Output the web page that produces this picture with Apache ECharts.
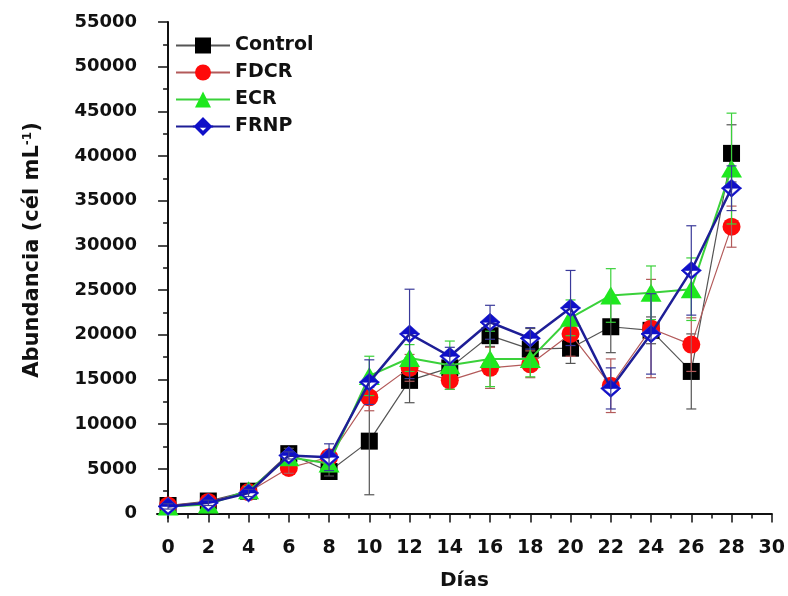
<!DOCTYPE html>
<html>
<head>
<meta charset="utf-8">
<script src="https://cdn.jsdelivr.net/npm/echarts@6/dist/echarts.min.js"></script>
<style>
  html, body { margin: 0; padding: 0; background: #fff; }
  #chart { width: 788px; height: 596px; }
</style>
</head>
<body>
<div id="chart"></div>
<script>
const days = [0, 2, 4, 6, 8, 10, 12, 14, 16, 18, 20, 22, 24, 26, 28];

const control    = [900, 1400, 2500, 6700, 4700, 8100, 14900, 16300, 19900, 18400, 18500, 20900, 20500, 15900, 40300];
const controlErr = [300, 300, 400, 600, 500, 6000, 2500, 1000, 1200, 2300, 1700, 2900, 1500, 4200, 3200];

const fdcr    = [900, 1300, 2400, 5100, 6300, 13000, 16300, 14900, 16300, 16700, 20100, 14300, 20700, 18900, 32100];
const fdcrErr = [300, 300, 400, 600, 700, 1500, 1500, 1000, 2300, 1500, 2500, 3000, 5500, 3000, 2300];

const ecr    = [800, 1000, 2600, 6300, 5600, 15400, 17400, 16600, 17300, 17300, 21900, 24400, 24700, 25100, 38600];
const ecrErr = [300, 400, 400, 500, 500, 2200, 1500, 2700, 3100, 2000, 2000, 3000, 3000, 3500, 6200];

const frnp    = [800, 1200, 2300, 6500, 6300, 14700, 20100, 17600, 21400, 19600, 23000, 14000, 20100, 27200, 36400];
const frnpErr = [300, 300, 400, 400, 1500, 2500, 5000, 1000, 1900, 1200, 4200, 2300, 4500, 5000, 2500];

const xTicks = [0, 2, 4, 6, 8, 10, 12, 14, 16, 18, 20, 22, 24, 26, 28, 30];
const xMinor = [1, 3, 5, 7, 9, 11, 13, 15, 17, 19, 21, 23, 25, 27, 29];
const yTicks = [0, 5000, 10000, 15000, 20000, 25000, 30000, 35000, 40000, 45000, 50000, 55000];
const yMinor = [2500, 7500, 12500, 17500, 22500, 27500, 32500, 37500, 42500, 47500, 52500];

const FONT = 'DejaVu Sans';
// top half filled, bottom half only outlined
const halfDiamond = 'path://M10 0L20 9L0 9ZM0 9L10 18L20 9L17.4 9L10 15.4L2.6 9Z';

function pairs(vals) {
  return days.map((d, i) => [d, vals[i]]);
}

function errorBars(name, vals, errs, color, z) {
  return {
    type: 'custom',
    name: name + ' err',
    z: z,
    silent: true,
    data: days.map((d, i) => [d, vals[i], errs[i]]),
    encode: { x: 0, y: 1 },
    renderItem(params, api) {
      const x = api.value(0), y = api.value(1), e = api.value(2);
      const top = api.coord([x, y + e]);
      const bot = api.coord([x, y - e]);
      const w = 5;
      const st = { stroke: color, lineWidth: 1.2 };
      return {
        type: 'group',
        children: [
          { type: 'line', shape: { x1: top[0], y1: top[1], x2: bot[0], y2: bot[1] }, style: st },
          { type: 'line', shape: { x1: top[0] - w, y1: top[1], x2: top[0] + w, y2: top[1] }, style: st },
          { type: 'line', shape: { x1: bot[0] - w, y1: bot[1], x2: bot[0] + w, y2: bot[1] }, style: st }
        ]
      };
    }
  };
}

const chart = echarts.init(document.getElementById('chart'));

const axisLine = { show: true, lineStyle: { color: '#111', width: 2 } };
const labelStyle = { color: '#111', fontFamily: FONT, fontWeight: 'bold' };

const option = {
  animation: false,
  backgroundColor: '#fff',
  grid: { left: 157, right: 13, top: 22, bottom: 78 },
  legend: {
    data: ['Control', 'FDCR', 'ECR', 'FRNP'],
    orient: 'vertical',
    left: 170,
    top: 31,
    itemWidth: 54,
    itemHeight: 20,
    itemGap: 8,
    textStyle: { color: '#111', fontFamily: FONT, fontWeight: 'bold', fontSize: 19 }
  },
  xAxis: [
    {
      type: 'value',
      min: -0.55,
      max: 30,
      position: 'bottom',
      name: 'Días',
      nameLocation: 'middle',
      nameGap: 53,
      nameTextStyle: { color: '#111', fontFamily: FONT, fontWeight: 'bold', fontSize: 20 },
      axisLine: axisLine,
      axisTick: { show: true, inside: false, length: 9, customValues: xTicks, lineStyle: { color: '#111', width: 1.5 } },
      axisLabel: Object.assign({ customValues: xTicks, fontSize: 19, margin: 21 }, labelStyle),
      splitLine: { show: false }
    },
    {
      type: 'value',
      min: -0.55,
      max: 30,
      position: 'bottom',
      axisLine: { show: false },
      axisTick: { show: true, length: 5, customValues: xMinor, lineStyle: { color: '#111', width: 1.5 } },
      axisLabel: { show: false },
      splitLine: { show: false }
    }
  ],
  yAxis: [
    {
      type: 'value',
      min: -500,
      max: 55000,
      position: 'left',
      name: 'Abundancia (cél mL{sup|-1})',
      nameLocation: 'middle',
      nameGap: 113,
      nameTextStyle: {
        color: '#111', fontFamily: FONT, fontWeight: 'bold', fontSize: 21,
        padding: [0, 0, 0, 40],
        rich: {
          sup: { fontFamily: FONT, fontWeight: 'bold', fontSize: 12, color: '#111', verticalAlign: 'bottom', padding: [0, 0, 10, 0] }
        }
      },
      axisLine: axisLine,
      axisTick: { show: true, inside: false, length: 10, customValues: yTicks, lineStyle: { color: '#111', width: 1.5 } },
      axisLabel: Object.assign({ customValues: yTicks, fontSize: 18, margin: 20, formatter: v => String(v) }, labelStyle),
      splitLine: { show: false }
    },
    {
      type: 'value',
      min: -500,
      max: 55000,
      position: 'left',
      axisLine: { show: false },
      axisTick: { show: true, length: 5, customValues: yMinor, lineStyle: { color: '#111', width: 1.5 } },
      axisLabel: { show: false },
      splitLine: { show: false }
    }
  ],
  series: [
    {
      name: 'Control', type: 'line', z: 2,
      data: pairs(control),
      symbol: 'rect', symbolSize: 17,
      itemStyle: { color: '#000' },
      lineStyle: { color: '#555', width: 1.2 }
    },
    errorBars('Control', control, controlErr, '#555', 3),
    {
      name: 'FDCR', type: 'line', z: 4,
      data: pairs(fdcr),
      symbol: 'circle', symbolSize: 18,
      itemStyle: { color: '#ff0a0a' },
      lineStyle: { color: '#b35a5a', width: 1.2 }
    },
    errorBars('FDCR', fdcr, fdcrErr, '#b35a5a', 5),
    {
      name: 'ECR', type: 'line', z: 6,
      data: pairs(ecr),
      symbol: 'triangle', symbolSize: [21, 18],
      itemStyle: { color: '#1ee81e' },
      lineStyle: { color: '#3ad13a', width: 2 }
    },
    errorBars('ECR', ecr, ecrErr, '#3ad13a', 7),
    {
      name: 'FRNP bg', type: 'line', z: 8,
      data: pairs(frnp),
      symbol: 'diamond', symbolSize: [20, 18],
      itemStyle: { color: '#fff' },
      lineStyle: { width: 0, opacity: 0 }
    },
    {
      name: 'FRNP', type: 'line', z: 9,
      data: pairs(frnp),
      symbol: halfDiamond, symbolSize: [20, 18],
      itemStyle: { color: '#1010c8', borderColor: '#1010c8', borderWidth: 0.6 },
      lineStyle: { color: '#1e1e96', width: 2.5 }
    },
    errorBars('FRNP', frnp, frnpErr, '#3a3a9a', 10)
  ]
};

chart.setOption(option);
</script>
</body>
</html>
